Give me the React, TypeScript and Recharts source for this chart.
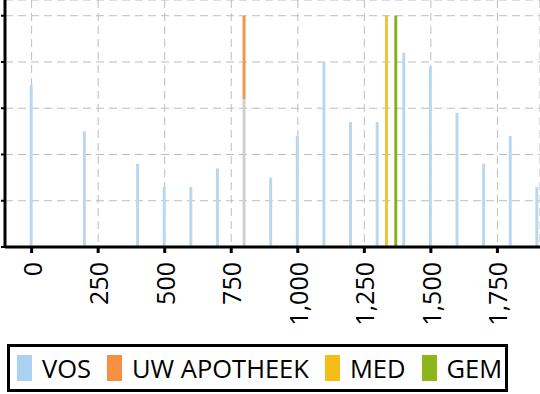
import React from "react"
import { Bar, BarChart, CartesianGrid, Cell, XAxis, YAxis } from "recharts"

// x positions of the bars (numeric axis) and the value of each series there
const positions = [0, 200, 400, 500, 600, 700, 800, 900, 1000, 1100, 1200, 1300, 1335, 1370, 1400, 1500, 1600, 1700, 1800, 1900]
const vos = [70, 50, 36, 26, 26, 34, 64, 30, 48, 80, 54, 54, null, null, 84, 78, 58, 36, 48, 26]
const uwApotheek = [null, null, null, null, null, null, 36, null, null, null, null, null, null, null, null, null, null, null, null, null]
const med = [null, null, null, null, null, null, null, null, null, null, null, null, 100, null, null, null, null, null, null, null]
const gem = [null, null, null, null, null, null, null, null, null, null, null, null, null, 100, null, null, null, null, null, null]

const xTicks = [0, 250, 500, 750, 1000, 1250, 1500, 1750]
const yTicks = [0, 20, 40, 60, 80, 100]

const series = [
  { key: "vos", name: "VOS", bar: "#bad7ef", swatch: "#abd2f2" },
  { key: "uw", name: "UW APOTHEEK", bar: "#ea9a50", swatch: "#f58f44" },
  { key: "med", name: "MED", bar: "#efc43c", swatch: "#f7bd17" },
  { key: "gem", name: "GEM", bar: "#8aae22", swatch: "#8db51c" },
]

// own pharmacy position is drawn grey in the VOS series
const ownPosition = 800

const data = positions.map((x, i) => ({
  x,
  vos: vos[i],
  uw: uwApotheek[i],
  med: med[i],
  gem: gem[i],
}))

const font = "'Open Sans', sans-serif"

function RotatedTick(props: any) {
  const { x, y, payload } = props
  return (
    <text
      x={0}
      y={0}
      transform={`translate(${x},${y}) rotate(-90)`}
      textAnchor="end"
      dominantBaseline="central"
      fontSize={25}
      fontFamily={font}
      fill="#000"
    >
      {Number(payload.value).toLocaleString("en-US")}
    </text>
  )
}

function ChartLegend() {
  return (
    <div
      style={{
        position: "absolute",
        left: 7,
        top: 344,
        width: 501,
        height: 48,
        boxSizing: "border-box",
        border: "3px solid #000",
        display: "flex",
        alignItems: "center",
        paddingLeft: 7,
        fontFamily: font,
        fontSize: 25.5,
        color: "#000",
        whiteSpace: "nowrap",
      }}
    >
      {series.map((s) => (
        <div key={s.key} style={{ display: "flex", alignItems: "center", marginRight: 16, flexShrink: 0 }}>
          <span style={{ display: "inline-block", width: 15, height: 26, background: s.swatch, marginRight: 10 }} />
          <span style={{ lineHeight: "26px" }}>{s.name}</span>
        </div>
      ))}
    </div>
  )
}

const noLabel = () => <g />

export default function App() {
  return (
    <div style={{ position: "absolute", left: 0, top: 0, width: 540, height: 394, background: "#fff" }}>
      <BarChart width={540} height={340} data={data} barSize={3} margin={{ top: 0, right: 0, left: 0, bottom: 0 }}>
        <CartesianGrid stroke="#bdbdbd" strokeDasharray="8 5" />
        <XAxis
          dataKey="x"
          type="number"
          domain={[-100, 1910]}
          ticks={xTicks}
          interval={0}
          height={93}
          stroke="#000"
          axisLine={{ stroke: "#000", strokeWidth: 3 }}
          tickLine={{ stroke: "#000", strokeWidth: 3 }}
          tickSize={6}
          tickMargin={9}
          tick={<RotatedTick />}
          allowDataOverflow
        />
        <YAxis
          type="number"
          domain={[0, 106.8]}
          ticks={yTicks}
          width={5}
          stroke="#000"
          axisLine={{ stroke: "#000", strokeWidth: 3 }}
          tickLine={{ stroke: "#000", strokeWidth: 2 }}
          tickSize={4}
          tick={noLabel}
          allowDataOverflow
        />
        {series.map((s) => (
          <Bar key={s.key} dataKey={s.key} name={s.name} stackId="a" fill={s.bar} isAnimationActive={false}>
            {s.key === "vos"
              ? data.map((d, i) => <Cell key={i} fill={d.x === ownPosition ? "#cfcfcf" : s.bar} />)
              : null}
          </Bar>
        ))}
      </BarChart>
      <ChartLegend />
    </div>
  )
}
